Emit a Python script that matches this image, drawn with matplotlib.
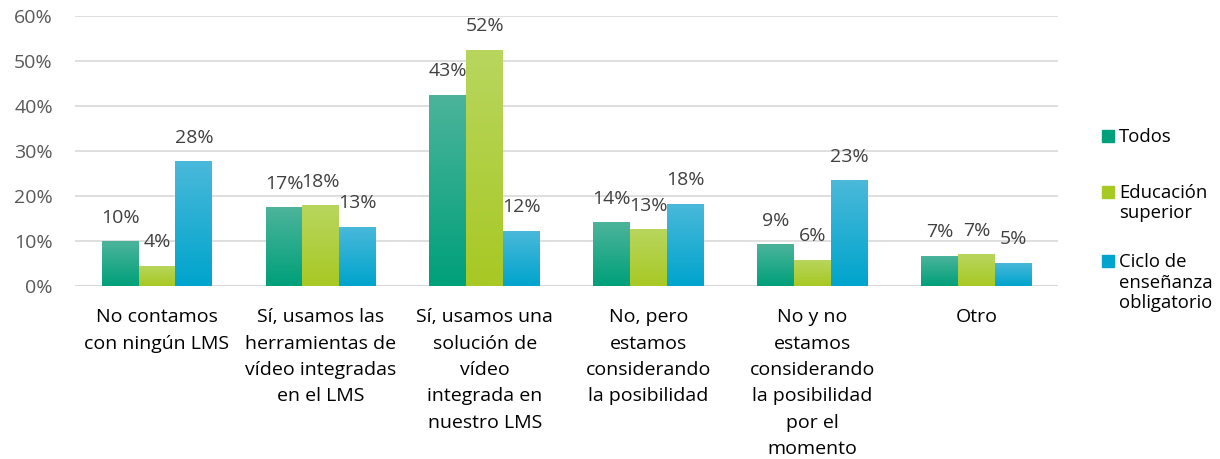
import numpy as np
import matplotlib
matplotlib.use("Agg")
import matplotlib.pyplot as plt
from matplotlib.colors import LinearSegmentedColormap
from matplotlib.patches import Rectangle

# datos (porcentajes)
categorias = ["No contamos\ncon ningún LMS",
              "Sí, usamos las\nherramientas de\nvídeo integradas\nen el LMS",
              "Sí, usamos una\nsolución de\nvídeo\nintegrada en\nnuestro LMS",
              "No, pero\nestamos\nconsiderando\nla posibilidad",
              "No y no\nestamos\nconsiderando\nla posibilidad\npor el\nmomento",
              "Otro"]
series = ["Todos", "Educación\nsuperior", "Ciclo de\nenseñanza\nobligatorio"]
todos = [10.0, 17.5, 42.5, 14.2, 9.3, 6.7]
educacion = [4.5, 18.0, 52.5, 12.6, 5.8, 7.0]
ciclo = [27.8, 13.2, 12.3, 18.3, 23.5, 5.2]
etiq_todos = ["10%", "17%", "43%", "14%", "9%", "7%"]
etiq_edu = ["4%", "18%", "52%", "13%", "6%", "7%"]
etiq_ciclo = ["28%", "13%", "12%", "18%", "23%", "5%"]

colores = [("#4cb49b", "#00a07a"), ("#b8d65e", "#a8c824"), ("#4ab9da", "#00a4cc")]

plt.rcParams['font.family'] = ['Open Sans', 'DejaVu Sans']

W, H = 1220, 459
fig = plt.figure(figsize=(W / 100, H / 100), dpi=100)
ax = fig.add_axes([0.0615, 0.377, 0.806, 0.588])

x = np.arange(len(categorias))
w = 0.225
gris = "#404040"

for i, (vals, labs) in enumerate(zip([todos, educacion, ciclo],
                                     [etiq_todos, etiq_edu, etiq_ciclo])):
    cmap = LinearSegmentedColormap.from_list("g%d" % i, [colores[i][1], colores[i][0]])
    bars = ax.bar(x + (i - 1) * w, vals, w, color=colores[i][1], zorder=3)
    for b, lab in zip(bars, labs):
        x0, y0 = b.get_x(), b.get_y()
        grad = np.linspace(0, 1, 100).reshape(-1, 1)
        im = ax.imshow(grad, cmap=cmap, origin="lower", aspect="auto",
                       extent=[x0, x0 + b.get_width(), y0, y0 + b.get_height()], zorder=4)
        im.set_clip_path(b)
        ax.text(b.get_x() + b.get_width() / 2, b.get_height() + 3.2, lab,
                ha="center", va="bottom", fontsize=14, color=gris, zorder=5)

ax.set_xlim(-0.5, len(categorias) - 0.5)
ax.set_ylim(0, 60)
ax.set_yticks(range(0, 61, 10))
ax.set_yticklabels(["%d%%" % v for v in range(0, 61, 10)], fontsize=14, color="#595959")
ax.yaxis.grid(True, color="#d9d9d9", linewidth=1.2, zorder=0)
ax.set_axisbelow(True)
ax.tick_params(axis="y", length=0, pad=16)
ax.tick_params(axis="x", length=0, pad=16)
ax.set_xticks(x)
ax.set_xticklabels(categorias, fontsize=14, color="#000000", linespacing=1.6)
for s in ax.spines.values():
    s.set_visible(False)
ax.axhline(0, color="#d9d9d9", linewidth=1.5, zorder=2)

# leyenda manual (cuadro alineado con la primera línea)
base_y = [142, 198, 267]
for i, nombre in enumerate(series):
    fig.patches.append(Rectangle((1102 / W, 1 - base_y[i] / H), 12 / W, 12 / H,
                                 transform=fig.transFigure, color=colores[i][1],
                                 figure=fig))
    for k, linea in enumerate(nombre.split("\n")):
        fig.text(1119 / W, 1 - (base_y[i] + 20.5 * k) / H, linea, fontsize=13.3,
                 color="#000000", va="baseline", ha="left")

fig.savefig("out.png", dpi=100)
